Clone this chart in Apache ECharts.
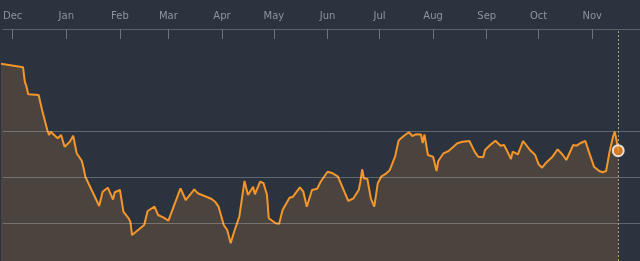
<!DOCTYPE html>
<html>
<head>
<meta charset="utf-8">
<script src="https://cdn.jsdelivr.net/npm/echarts@6/dist/echarts.min.js"></script>
<style>
html,body{margin:0;padding:0;background:#2a333e;}
#chart{width:640px;height:261px;}
</style>
</head>
<body>
<div id="chart"></div>
<script>
var monthNames = ['Jan','Feb','Mar','Apr','May','Jun','Jul','Aug','Sep','Oct','Nov','Dec'];
var monthTicks = ['2022-12-01','2023-01-01','2023-02-01','2023-03-01','2023-04-01','2023-05-01','2023-06-01','2023-07-01','2023-08-01','2023-09-01','2023-10-01','2023-11-01'];
var gridValues = [10, 20, 30];

var dates = ['2022-11-24','2022-12-07','2022-12-08','2022-12-09','2022-12-10','2022-12-16','2022-12-18','2022-12-21','2022-12-22','2022-12-23','2022-12-27','2022-12-28','2022-12-29','2022-12-31',
'2023-01-03','2023-01-05','2023-01-07','2023-01-10','2023-01-11','2023-01-12','2023-01-17','2023-01-20','2023-01-22','2023-01-25','2023-01-26','2023-01-28','2023-01-29',
'2023-02-01','2023-02-03','2023-02-06','2023-02-07','2023-02-08','2023-02-09','2023-02-15','2023-02-17','2023-02-21','2023-02-23','2023-02-26',
'2023-03-01','2023-03-08','2023-03-11','2023-03-16','2023-03-18','2023-03-26','2023-03-28','2023-03-30',
'2023-04-02','2023-04-04','2023-04-06','2023-04-08','2023-04-11','2023-04-14','2023-04-16','2023-04-19','2023-04-20','2023-04-23','2023-04-25','2023-04-27','2023-04-28',
'2023-05-02','2023-05-04','2023-05-06','2023-05-10','2023-05-12','2023-05-16','2023-05-18','2023-05-20','2023-05-23','2023-05-26','2023-05-28',
'2023-06-01','2023-06-04','2023-06-07','2023-06-08','2023-06-13','2023-06-16','2023-06-19','2023-06-20','2023-06-21','2023-06-22','2023-06-24','2023-06-26','2023-06-28','2023-06-30',
'2023-07-02','2023-07-05','2023-07-07','2023-07-10','2023-07-12','2023-07-13','2023-07-15','2023-07-18','2023-07-20','2023-07-22','2023-07-25','2023-07-26','2023-07-27','2023-07-28','2023-07-29',
'2023-08-01','2023-08-03','2023-08-04','2023-08-07','2023-08-10','2023-08-15','2023-08-18','2023-08-22','2023-08-25','2023-08-27','2023-08-30','2023-08-31',
'2023-09-03','2023-09-06','2023-09-09','2023-09-11','2023-09-13','2023-09-15','2023-09-16','2023-09-19','2023-09-22','2023-09-23','2023-09-26','2023-09-27','2023-09-29',
'2023-10-01','2023-10-03','2023-10-05','2023-10-06','2023-10-09','2023-10-12','2023-10-15','2023-10-17','2023-10-21','2023-10-23','2023-10-25','2023-10-28','2023-10-30',
'2023-11-02','2023-11-05','2023-11-07','2023-11-09','2023-11-11','2023-11-13','2023-11-14','2023-11-15','2023-11-16'];

var values = [44.5,43.74,40.63,39.55,37.91,37.76,34.52,30.21,29.13,29.84,28.42,28.05,29.13,26.60,
27.68,28.98,25.18,23.52,21.94,20.13,16.18,13.81,16.89,17.76,16.89,15.21,16.77,
17.26,12.58,11.16,10.42,7.55,7.40,9.71,12.73,13.66,11.87,11.37,
10.64,17.63,15.10,17.41,16.55,15.32,14.74,13.66,
9.71,8.63,5.76,8.26,11.50,19.20,16.18,17.97,16.33,19.05,18.71,16.18,11.16,
10.08,10.00,12.95,15.60,15.82,17.84,16.89,13.66,17.26,17.52,19.05,
21.21,20.86,20.13,19.79,14.89,15.47,17.26,19.05,21.73,19.79,19.63,15.47,13.66,18.71,
20.13,20.86,21.58,24.45,27.83,28.27,28.91,29.71,28.91,29.28,29.24,27.40,29.24,29.13,24.81,
24.45,21.36,23.52,25.18,25.68,27.34,27.68,27.83,25.53,24.45,24.32,25.89,
26.97,27.90,26.82,26.97,25.53,23.95,25.53,24.96,27.83,28.16,25.89,25.78,24.81,
22.81,22.07,23.02,22.66,24.45,26.04,24.81,23.73,26.97,26.82,27.34,27.83,25.53,
22.29,21.36,21.08,21.36,25.53,28.76,29.84,28.05,25.74];

function ts(s) { return echarts.number.parseDate(s).getTime(); }
var lineData = dates.map(function (d, i) { return [ts(d), values[i]]; });
var lastTime = ts(dates[dates.length - 1]);
var lastValue = values[values.length - 1];
var tickTimes = monthTicks.map(ts);

var chart = echarts.init(document.getElementById('chart'), null, {renderer: 'canvas'});
chart.setOption({
  backgroundColor: '#2a333e',
  animation: false,
  grid: {left: 0, right: 0, top: 29, bottom: 0, containLabel: false},
  xAxis: {
    type: 'value',
    position: 'top',
    min: ts('2022-11-25 06:00'),
    max: ts('2023-11-28 14:00'),
    z: 6,
    axisLine: {show: true, onZero: false, lineStyle: {color: '#59616b', width: 1}},
    axisTick: {show: true, inside: true, length: 10, customValues: tickTimes, lineStyle: {color: '#6c737c', width: 1}},
    axisLabel: {
      show: true, customValues: tickTimes, margin: 8,
      color: '#8d949c', fontSize: 10, fontFamily: 'DejaVu Sans',
      formatter: function (v) { return monthNames[new Date(v).getMonth()]; }
    },
    splitLine: {show: false}
  },
  yAxis: {
    type: 'value',
    min: 1.94,
    max: 52,
    z: 5,
    axisLine: {show: false},
    axisLabel: {show: false},
    axisTick: {show: false, customValues: gridValues},
    splitLine: {show: true, lineStyle: {color: 'rgba(255,255,255,0.25)', width: 1}}
  },
  series: [
    {
      type: 'line',
      data: lineData,
      showSymbol: false,
      symbol: 'none',
      lineStyle: {color: '#f5962a', width: 2},
      areaStyle: {color: '#4b433e', opacity: 1},
      z: 2,
      markLine: {
        silent: true,
        symbol: 'none',
        label: {show: false},
        lineStyle: {color: '#b0a070', width: 1, type: [2, 2]},
        data: [{xAxis: lastTime}]
      }
    },
    {
      type: 'scatter',
      data: [[lastTime, lastValue]],
      symbol: 'circle',
      symbolSize: 11,
      itemStyle: {color: '#f5891f', borderColor: '#ffffff', borderWidth: 2},
      z: 10
    }
  ]
});
</script>
</body>
</html>
